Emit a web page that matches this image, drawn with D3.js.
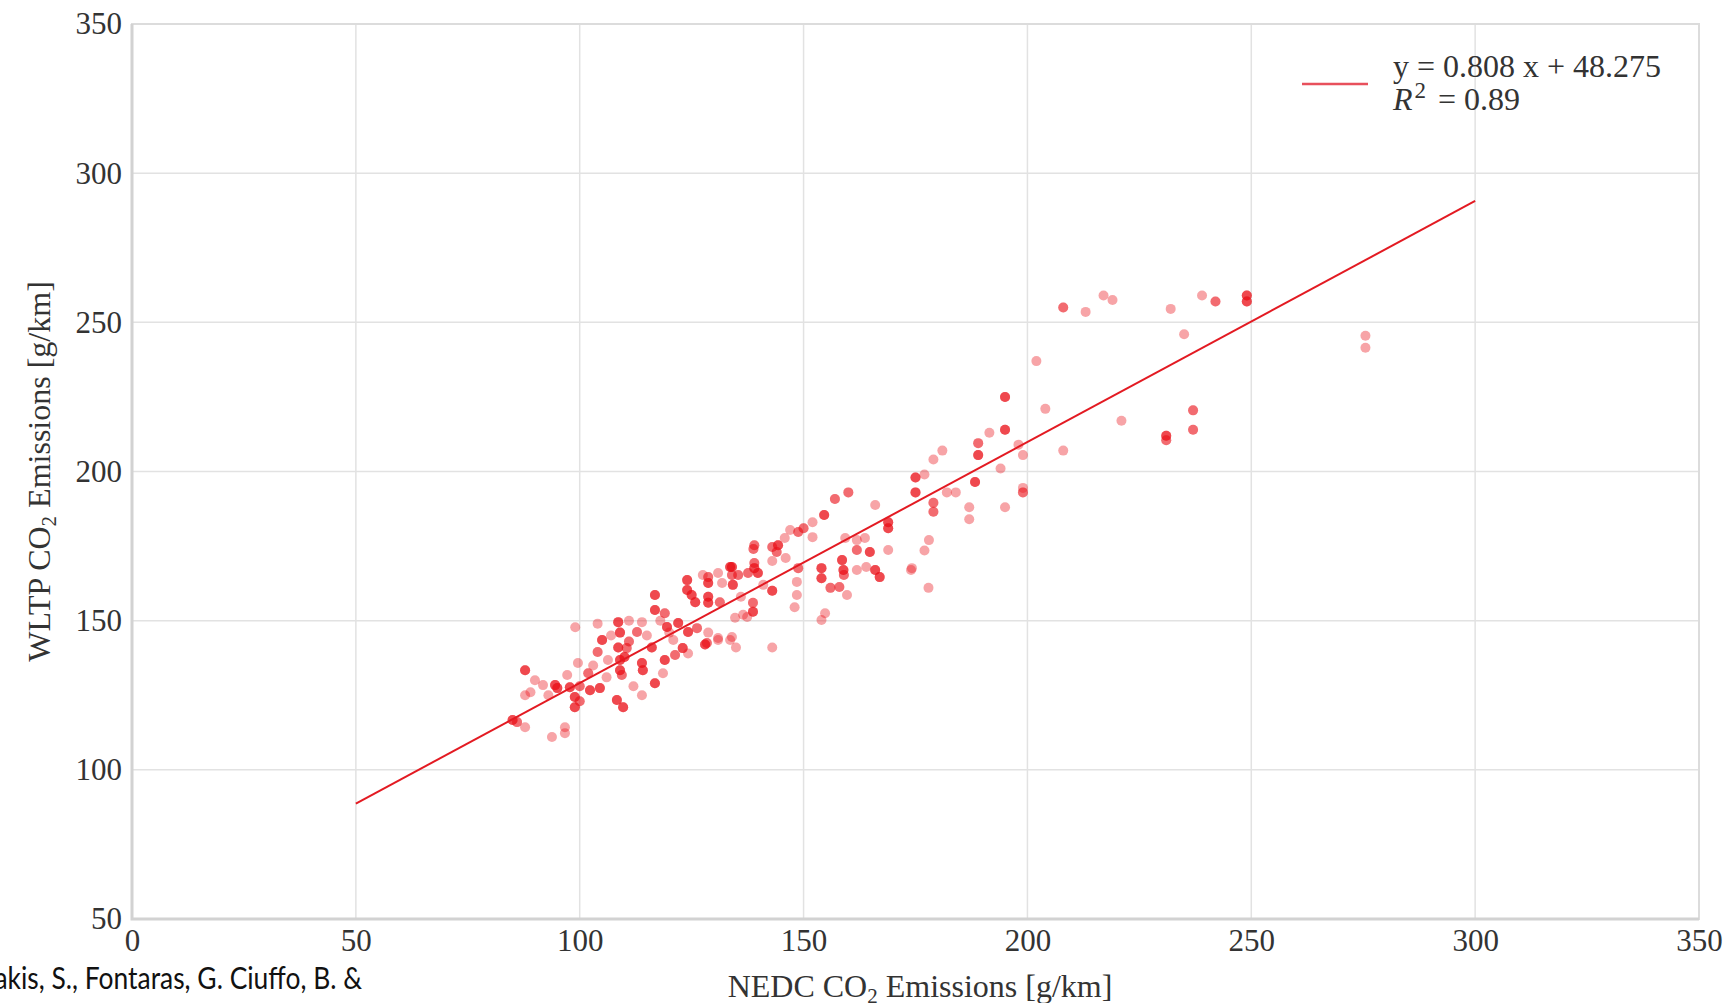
<!DOCTYPE html>
<html>
<head>
<meta charset="utf-8">
<script src="https://cdn.jsdelivr.net/npm/d3@7"></script>
<style>
  body { margin: 0; background: #fff; }
  svg { display: block; }
</style>
</head>
<body>
<div class="chart"></div>
<script>
// NEDC vs WLTP CO2 values (g/km); nCars = how many cars share a spot
const nedc = [275.5,275.5,249,249,242,239,237,237,235,232,231,231,221,219,217,213,208,208,204,202,
  195,195,191.5,189,189,188.3,194,198,199,199,199,187,187,195,175,177,175,179,179,184,
  182,178,177,174,181,179,177.9,
  160,157,154.6,152,148.8,147,145.8,144.3,144,143,139,138.8,139,139,139.8,134,134,137.6,
  134.2,131.8,128.7,128.7,128.7,131.3,143,138.7,138.7,136.5,134.7,134,128,128.7,130.9,143,
  148.5,148.5,148.8,148,154,154,156,154,154.8,158.6,158.9,159,158,159.7,161.9,161.9,161.9,
  164,164.8,166,167,168.9,168.9,168.9,166,159.3,163.7,174.2,
  87.8,85,86,87.8,87.8,93.8,91.8,94.5,95,97.2,97.8,98.9,98.9,96.7,96.7,99,99.6,102.3,104.5,
  101.9,105,104,106.3,108.6,109,108.6,109,109,109.4,108.3,109.7,110,110.5,112.8,113.9,113.9,
  114.1,116.8,113.9,118.6,116.8,116.8,119,119.5,116.1,119,121.3,120.9,122,124.2,123,124.2,
  124,124,125,125.8,126.2,127.5,128.7,130.9,130.9,128.4,133.6,135.4,137.4,133.6,134.9,
  90,89,104,107,111,106,112,115,118,120,93,100,103,111,100,150,152,143,146,141,136];
const wltp = [245.5,241.5,259,257,257,259,220.5,214,246,254.5,212,210.5,217,257.5,259,253.5,255,207,221,237,
  225,214,213,209.5,205.5,196.5,201,209,205.5,193,194.5,188,184,188,198,199,193,189.5,186.5,193,
  193,177,173.5,167,207,204,161,
  193,190.8,185.4,183,179.7,180.4,177.7,175.3,173,174.7,175.3,174,169.3,167.6,166,168,165.3,166,
  162,162.6,164.6,158,156,156.2,160,156,153,152,151,144.5,142,146,143.5,141,
  163,158.6,167.6,154.5,167.6,164.2,161,150.2,152.5,170.3,167,165.3,161.3,158.6,177,173.7,167,
  168,173,167,164.6,173.7,183,181,188.8,177.7,177.7,167.6,
  133.4,116.7,116,125,114.3,111,128.4,128.4,127.4,131.8,127.7,124.4,121,114.3,112.3,147.8,135.8,126.7,127.4,
  132.4,143.5,139.5,136.8,149.5,146,141,136.8,133.4,131.8,123.4,121,137.8,140.8,146.2,149.5,135.8,
  133.4,129,125,132.4,158.6,153.6,152.5,147.9,141,136.8,138.5,143.5,149.2,146.2,140.8,139,
  163.6,160.3,158.6,156.2,147.5,165.3,162.6,166,144.2,142.5,168,165.3,151.2,143.5,141,
  130,126,149,145,143,131,128,145,150,146,125,128,135,150,123,181,178,170,171,162,158];
const nCars = [1,1,3,3,2,1,2,2,1,1,3,2,1,1,1,1,2,1,1,1,
  3,3,1,2,3,3,1,1,1,2,1,1,1,1,3,1,3,2,2,1,
  1,1,1,1,1,1,1,
  2,2,3,1,2,1,1,3,2,2,2,2,2,3,3,3,2,2,
  3,1,2,3,3,2,3,2,3,1,1,1,3,1,1,1,
  1,1,2,1,3,3,2,1,1,3,3,2,2,1,1,2,1,
  1,3,3,3,1,3,3,1,1,1,1,
  3,3,2,1,1,1,1,3,3,1,3,3,3,1,1,1,1,3,3,
  2,3,2,1,3,3,3,3,3,2,3,3,3,2,2,1,3,
  3,3,1,1,3,3,2,3,3,3,2,1,3,3,3,1,
  3,3,3,3,2,1,3,1,1,2,3,2,1,1,1,
  1,1,1,1,2,1,1,1,1,1,1,2,1,1,2,2,1,1,1,1,1];

const slope = 0.808;
const intercept = 48.275;
const fitRange = [50, 300];
const xTicks = [0, 50, 100, 150, 200, 250, 300, 350];
const yTicks = [50, 100, 150, 200, 250, 300, 350];

const width = 1727;
const height = 1003;
const serif = '"Liberation Serif", "DejaVu Serif", serif';

const svg = d3.select('.chart')
  .append('svg')
  .attr('width', width)
  .attr('height', height);

const x = d3.scaleLinear().domain([0, 350]).range([132, 1699]);
const y = d3.scaleLinear().domain([50, 350]).range([919, 24]);

// grid
svg.append('g')
  .selectAll('line')
  .data(xTicks.slice(1, -1))
  .enter()
  .append('line')
  .attr('x1', d => x(d)).attr('x2', d => x(d))
  .attr('y1', y(50)).attr('y2', y(350))
  .attr('stroke', '#e2e2e2')
  .attr('stroke-width', 1.5);

svg.append('g')
  .selectAll('line')
  .data(yTicks.slice(1, -1))
  .enter()
  .append('line')
  .attr('x1', x(0)).attr('x2', x(350))
  .attr('y1', d => y(d)).attr('y2', d => y(d))
  .attr('stroke', '#e2e2e2')
  .attr('stroke-width', 1.5);

// frame
svg.append('rect')
  .attr('x', x(0)).attr('y', y(350))
  .attr('width', x(350) - x(0)).attr('height', y(50) - y(350))
  .attr('fill', 'none')
  .attr('stroke', '#dcdcdc')
  .attr('stroke-width', 2);
svg.append('path')
  .attr('d', `M${x(0)},${y(350)}V${y(50)}H${x(350)}`)
  .attr('fill', 'none')
  .attr('stroke', '#d2d2d2')
  .attr('stroke-width', 3);

// axes (labels only)
const xAxis = svg.append('g')
  .attr('transform', `translate(0,${y(50)})`)
  .call(d3.axisBottom(x).tickValues(xTicks).tickSize(0).tickPadding(10));
const yAxis = svg.append('g')
  .attr('transform', `translate(${x(0) - 10},0)`)
  .call(d3.axisLeft(y).tickValues(yTicks).tickSize(0).tickPadding(0));
[xAxis, yAxis].forEach(a => {
  a.select('.domain').remove();
  a.selectAll('text')
    .style('font-family', serif)
    .style('font-size', '31px')
    .style('fill', '#333');
});

// points
const pts = [];
nedc.forEach((v, i) => { for (let k = 0; k < nCars[i]; k++) pts.push([v, wltp[i]]); });
svg.append('g')
  .selectAll('circle')
  .data(pts)
  .enter()
  .append('circle')
  .attr('cx', d => x(d[0]))
  .attr('cy', d => y(d[1]))
  .attr('r', 5)
  .attr('fill', '#ea0f18')
  .attr('fill-opacity', 0.38);

// regression line
svg.append('line')
  .attr('x1', x(fitRange[0])).attr('y1', y(slope * fitRange[0] + intercept))
  .attr('x2', x(fitRange[1])).attr('y2', y(slope * fitRange[1] + intercept))
  .attr('stroke', '#e31a22')
  .attr('stroke-width', 2);

// legend
svg.append('line')
  .attr('x1', 1302).attr('x2', 1368)
  .attr('y1', 84).attr('y2', 84)
  .attr('stroke', '#e8505c')
  .attr('stroke-width', 2.5);
svg.append('text')
  .attr('x', 1393).attr('y', 77)
  .attr('font-family', serif)
  .attr('font-size', '32px')
  .attr('fill', '#333')
  .text(`y = ${slope} x + ${intercept}`);
const r2 = svg.append('text')
  .attr('x', 1393).attr('y', 110)
  .attr('font-family', serif)
  .attr('font-size', '32px')
  .attr('fill', '#333');
r2.append('tspan').attr('font-style', 'italic').text('R');
r2.append('tspan').attr('font-size', '23px').attr('dx', 2).attr('dy', -12).text('2');
r2.append('tspan').attr('dx', 4).attr('dy', 12).text(' =  0.89');

// axis titles
const xt = svg.append('text')
  .attr('x', 920).attr('y', 997)
  .attr('text-anchor', 'middle')
  .attr('font-family', serif)
  .attr('font-size', '32px')
  .attr('fill', '#333');
xt.append('tspan').text('NEDC CO');
xt.append('tspan').attr('font-size', '21px').attr('dy', 6).text('2');
xt.append('tspan').attr('dy', -6).text(' Emissions [g/km]');

const yt = svg.append('text')
  .attr('transform', `translate(50,${y(200)}) rotate(-90)`)
  .attr('text-anchor', 'middle')
  .attr('font-family', serif)
  .attr('font-size', '32px')
  .attr('fill', '#333');
yt.append('tspan').text('WLTP CO');
yt.append('tspan').attr('font-size', '21px').attr('dy', 6).text('2');
yt.append('tspan').attr('dy', -6).text(' Emissions [g/km]');

// source note, cut at the left edge
svg.append('text')
  .attr('transform', 'translate(362,989) scale(0.88,1)')
  .attr('text-anchor', 'end')
  .attr('font-family', 'Lato, "Open Sans", sans-serif')
  .attr('font-size', '30px')
  .attr('fill', '#111')
  .text('Tsiakmakis, S., Fontaras, G. Ciuffo, B. &');
</script>
</body>
</html>
